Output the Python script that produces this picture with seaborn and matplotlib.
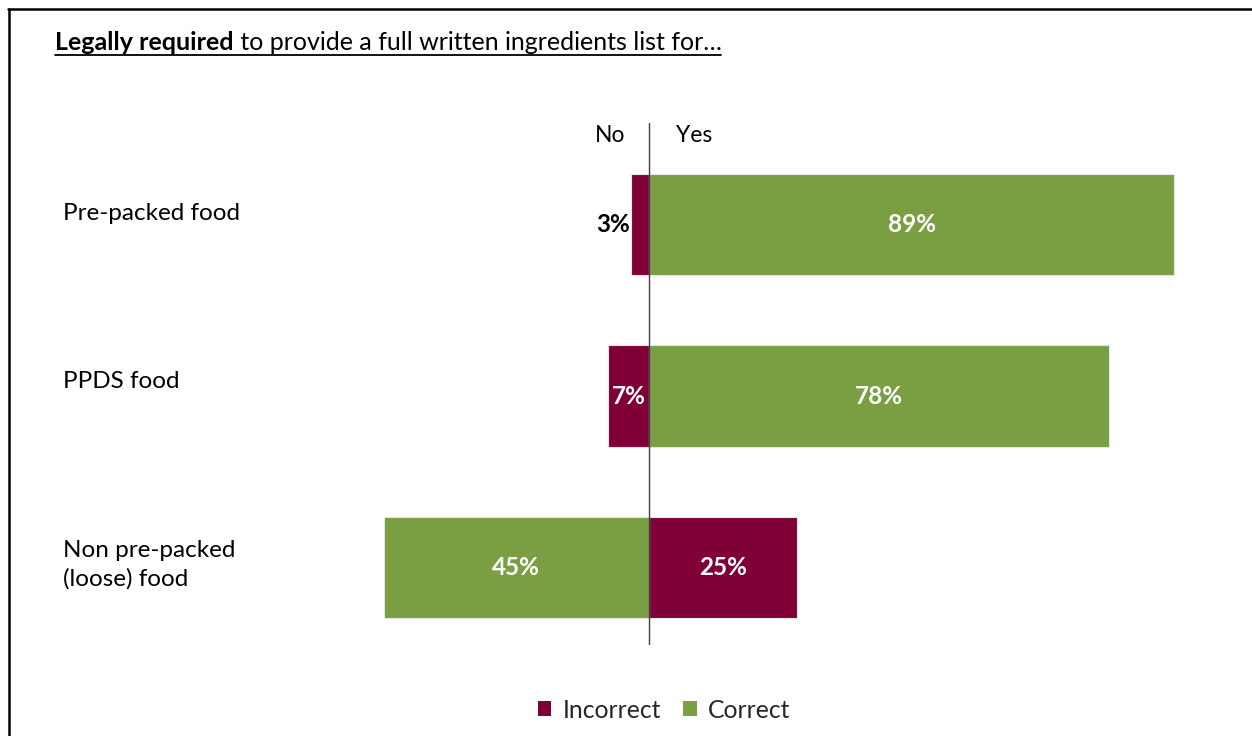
import matplotlib
matplotlib.use("Agg")
import matplotlib.pyplot as plt
from matplotlib.lines import Line2D
from matplotlib.patches import Patch
import seaborn as sns
import pandas as pd

# Survey results: share answering "No" / "Yes" for each food type
categories = ["Pre-packed food", "PPDS food", "Non pre-packed\n(loose) food"]
no_values = [3, 7, 45]
yes_values = [89, 78, 25]
no_status = ["Incorrect", "Incorrect", "Correct"]
yes_status = ["Correct", "Correct", "Incorrect"]

status_order = ["Incorrect", "Correct"]
palette = {"Incorrect": "#7F0037", "Correct": "#7A9E42"}

rows = []
for cat, nv, yv, ns, ys in zip(categories, no_values, yes_values, no_status, yes_status):
    rows.append({"category": cat, "value": -nv, "answer": "No", "status": ns})
    rows.append({"category": cat, "value": yv, "answer": "Yes", "status": ys})
df = pd.DataFrame(rows)

sns.set_theme(style="white")
plt.rcParams["font.family"] = ["Lato", "DejaVu Sans"]

W, H = 1252, 736
fig = plt.figure(figsize=(W / 100, H / 100), dpi=100)

# axes geometry in pixels: centre line at x=649, 5.9 px per percent
px_per = 5.9
x_min, x_max = -50, 100
ax_left = 649 + x_min * px_per
ax_w = (x_max - x_min) * px_per
ax_top, ax_bot = 123, 645
ax = fig.add_axes([ax_left / W, 1 - ax_bot / H, ax_w / W, (ax_bot - ax_top) / H])

sns.barplot(data=df, y="category", x="value", hue="status", hue_order=status_order,
            palette=palette, orient="h", dodge=False, width=0.59, order=categories,
            edgecolor="#E6E6E6", linewidth=0.8, saturation=1, legend=False, ax=ax)

ax.set_xlim(x_min, x_max)
ax.set_ylim(2.452, -0.592)
ax.axvline(0, color="#404040", linewidth=1.0, zorder=5)
for s in ax.spines.values():
    s.set_visible(False)
ax.set_xticks([])
ax.set_yticks([])
ax.set_xlabel("")
ax.set_ylabel("")

fs = 17.5
# value labels
for i, cat in enumerate(categories):
    for val in (-no_values[i], yes_values[i]):
        txt = f"{abs(val)}%"
        if abs(val) < 5:
            ax.text(val - 0.2, i, txt, ha="right", va="center", fontsize=fs,
                    fontweight="bold", color="black")
        else:
            ax.text(val / 2, i, txt, ha="center", va="center", fontsize=fs,
                    fontweight="bold", color="white")

# No / Yes headers
ax.text(-6.6, -0.52, "No", ha="center", va="center", fontsize=fs - 1, color="black", clip_on=False)
ax.text(7.6, -0.52, "Yes", ha="center", va="center", fontsize=fs - 1, color="black", clip_on=False)

# category labels, left-aligned
label_y_px = [214, 381, 565]
for cat, y_px in zip(categories, label_y_px):
    fig.text(63 / W, 1 - y_px / H, cat, ha="left", va="center", fontsize=fs,
             color="black", linespacing=1.4)

# title with underline
fs_title = 18
t1 = fig.text(55 / W, 1 - 43 / H, "Legally required", ha="left", va="center",
              fontsize=fs_title, fontweight="bold", color="black")
fig.canvas.draw()
r = fig.canvas.get_renderer()
bb = t1.get_window_extent(renderer=r)
t2 = fig.text(bb.x1 / W, 1 - 43 / H, " to provide a full written ingredients list for\u2026",
              ha="left", va="center", fontsize=fs_title, color="black")
fig.canvas.draw()
bb2 = t2.get_window_extent(renderer=r)
fig.add_artist(Line2D([55 / W, bb2.x1 / W], [1 - 55 / H, 1 - 55 / H],
                      color="black", linewidth=1.3, transform=fig.transFigure))

# frame lines along top and left
fig.add_artist(Line2D([8 / W, 1], [1 - 9 / H, 1 - 9 / H], color="black", linewidth=1.8,
                      transform=fig.transFigure))
fig.add_artist(Line2D([8.5 / W, 8.5 / W], [0, 1 - 9 / H], color="black", linewidth=1.8,
                      transform=fig.transFigure))

# legend
handles = [Patch(facecolor=palette[s], edgecolor="none", label=s) for s in status_order]
fig.legend(handles=handles, loc="center", bbox_to_anchor=(664 / W, 1 - 710 / H), ncol=2,
           frameon=False, fontsize=fs + 0.3, handlelength=0.55, handleheight=0.55,
           handletextpad=0.45, columnspacing=0.9)

fig.savefig("out.png", dpi=100, facecolor="white")
